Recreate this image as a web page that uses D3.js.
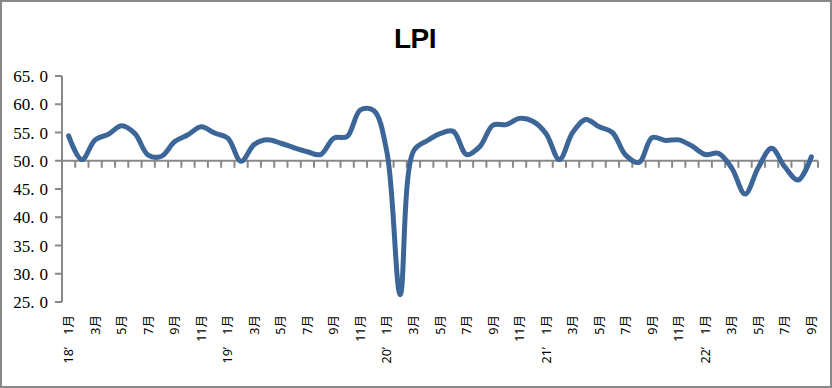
<!DOCTYPE html>
<meta charset="utf-8">
<html>
<style>
  body { margin: 0; background: #fff; }
  .ylab { font-family: "Liberation Serif", "DejaVu Serif", serif; font-size: 17px; fill: #000; }
  .xlab { font-family: "Noto Sans", "Noto Sans CJK SC", sans-serif; font-size: 12.5px; fill: #000; }
  .title { font-family: "Liberation Sans", Arial, sans-serif; font-weight: bold; font-size: 28px; letter-spacing: -0.5px; }
</style>
<body>
<svg width="832" height="388"></svg>
<script src="https://d3js.org/d3.v7.min.js"></script>
<script>

// monthly LPI, 2018-01 .. 2022-09
var years = ["18", "19", "20", "21", "22"];
var monthCount = [12, 12, 12, 12, 9];
var lpi = [
  54.4, 50.2, 53.7, 54.7, 56.2, 54.8, 51.0, 50.8, 53.4, 54.6, 56.0, 54.9,
  54.0, 49.9, 52.9, 53.7, 53.1, 52.3, 51.6, 51.1, 54.0, 54.3, 59.0, 58.9,
  51.5, 26.3, 51.7, 53.5, 54.8, 55.2, 51.1, 52.5, 56.3, 56.4, 57.5, 57.0,
  54.8, 50.2, 55.0, 57.3, 56.0, 55.0, 51.0, 49.7, 54.1, 53.6, 53.7, 52.6,
  51.1, 51.3, 48.7, 44.1, 48.8, 52.2, 48.9, 46.6, 50.7
];
var yTicks = [25, 30, 35, 40, 45, 50, 55, 60, 65];

var months = [];
years.forEach(function(y, i) {
  for (var m = 1; m <= monthCount[i]; m++) months.push({ year: y, month: m });
});

var svg = d3.select("svg");

var x = d3.scaleBand().domain(d3.range(months.length)).range([62, 818]);
var y = d3.scaleLinear().domain([25, 65]).range([302, 76]);
var cx = function(i) { return x(i) + x.bandwidth() / 2; };

// outer frame
svg.append("rect")
  .attr("x", 1).attr("y", 1).attr("width", 830).attr("height", 386)
  .attr("fill", "#fff").attr("stroke", "#888").attr("stroke-width", 2);

svg.append("text").attr("class", "title")
  .attr("x", 415).attr("y", 48).attr("text-anchor", "middle")
  .text("LPI");

// y axis
var gy = svg.append("g");
gy.append("line")
  .attr("x1", 62).attr("x2", 62).attr("y1", y(65)).attr("y2", y(25))
  .attr("stroke", "#888").attr("stroke-width", 2);
gy.selectAll("line.tk").data(yTicks).enter().append("line")
  .attr("class", "tk")
  .attr("x1", 55).attr("x2", 62)
  .attr("y1", function(d) { return y(d); }).attr("y2", function(d) { return y(d); })
  .attr("stroke", "#888").attr("stroke-width", 2);
var yl = gy.selectAll("text").data(yTicks).enter().append("text")
  .attr("class", "ylab")
  .attr("x", 48).attr("y", function(d) { return y(d); })
  .attr("text-anchor", "end").attr("dominant-baseline", "central");
yl.append("tspan").text(function(d) { return d3.format(".1f")(d).split(".")[0] + "."; });
yl.append("tspan").attr("dx", 5).text(function(d) { return d3.format(".1f")(d).split(".")[1]; });

// x axis crossing at 50
var y50 = y(50);
svg.append("line")
  .attr("x1", 62).attr("x2", 818).attr("y1", y50).attr("y2", y50)
  .attr("stroke", "#888").attr("stroke-width", 2);
svg.selectAll("line.xt").data(d3.range(1, months.length + 1)).enter().append("line")
  .attr("class", "xt")
  .attr("x1", function(i) { return i < months.length ? x(i) : 818; })
  .attr("x2", function(i) { return i < months.length ? x(i) : 818; })
  .attr("y1", y50).attr("y2", y50 + 7)
  .attr("stroke", "#888").attr("stroke-width", 2);

// month labels (every other month) and year labels
var lab = months.map(function(d, i) { return { i: i, d: d }; }).filter(function(o) { return o.d.month % 2 === 1; });
svg.selectAll("text.m").data(lab).enter().append("text")
  .attr("class", "xlab m")
  .attr("transform", function(o) { return "translate(" + cx(o.i) + ",315) rotate(-90)"; })
  .attr("text-anchor", "end").attr("dominant-baseline", "central")
  .text(function(o) { return o.d.month + "月"; });
svg.selectAll("text.yr").data(lab.filter(function(o) { return o.d.month === 1; })).enter().append("text")
  .attr("class", "xlab yr")
  .attr("transform", function(o) { return "translate(" + cx(o.i) + ",347) rotate(-90)"; })
  .attr("text-anchor", "end").attr("dominant-baseline", "central")
  .text(function(o) { return o.d.year + "’"; });

// series
var line = d3.line()
  .x(function(d, i) { return cx(i); })
  .y(function(d) { return y(d); })
  .curve(d3.curveCatmullRom.alpha(0.5));

svg.append("path").datum(lpi)
  .attr("d", line)
  .attr("fill", "none")
  .attr("stroke", "#3C6698")
  .attr("stroke-width", 5)
  .attr("stroke-linejoin", "round")
  .attr("stroke-linecap", "round");

</script>
</body>
</html>
